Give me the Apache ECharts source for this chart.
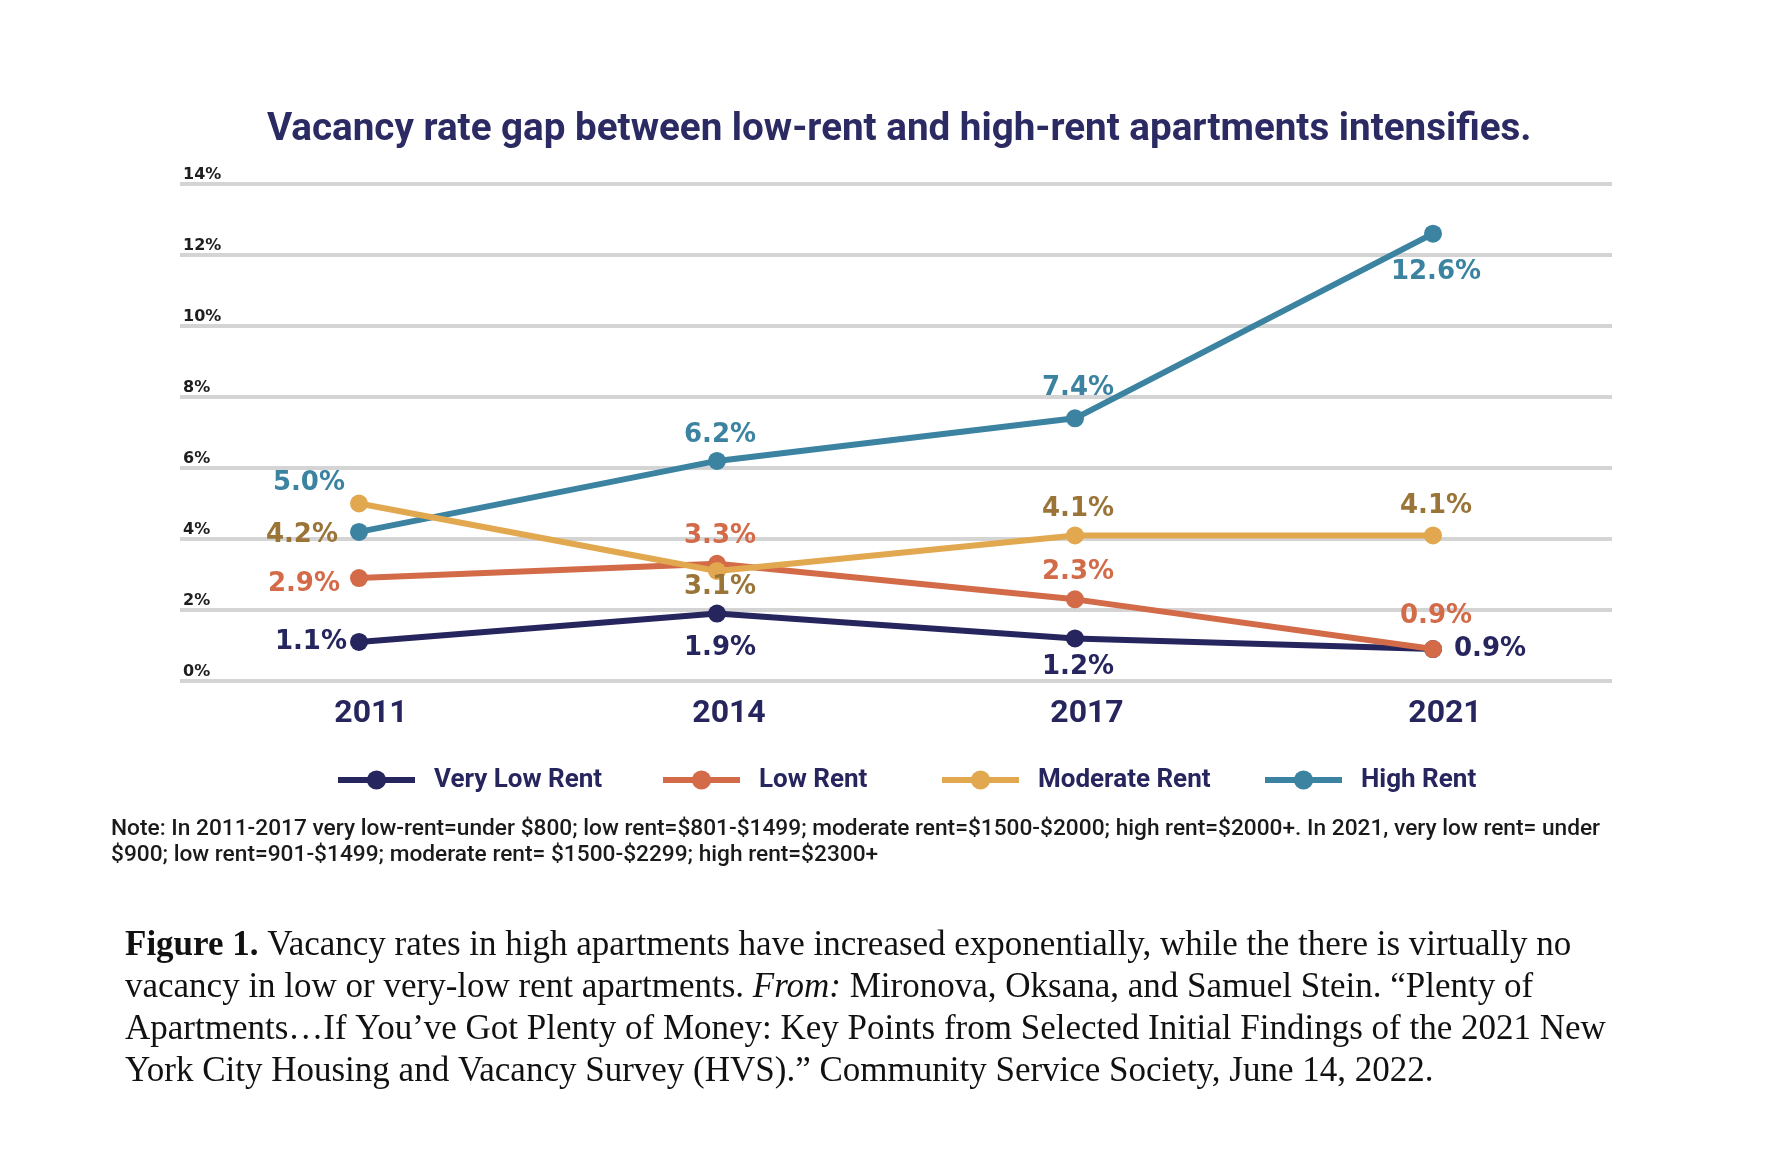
<!DOCTYPE html>
<html>
<head>
<meta charset="utf-8">
<title>vacancy gap</title>
<script src="https://cdn.jsdelivr.net/npm/echarts@6/dist/echarts.min.js"></script>
<style>
  html, body { margin: 0; padding: 0; background: #fff; }
  #chart { width: 1770px; height: 1174px; }
</style>
</head>
<body>
<div id="chart"></div>
<script>
// survey years and vacancy rates (%)
var years = ['2011', '2014', '2017', '2021'];
var veryLowRent = [1.1, 1.9, 1.2, 0.9];
var lowRent = [2.9, 3.3, 2.3, 0.9];
var moderateRent = [5.0, 3.1, 4.1, 4.1];
var highRent = [4.2, 6.2, 7.4, 12.6];
var yTicks = [0, 2, 4, 6, 8, 10, 12, 14];
var seriesNames = ['Very Low Rent', 'Low Rent', 'Moderate Rent', 'High Rent'];

var NAVY = '#26255e', ORANGE = '#d36a48', GOLD = '#e2a84f', TEAL = '#3b83a1', BROWN = '#9b7538';

// where each value label sits relative to its point
var labelLayout = {
  vl:   [{p: 'left', d: 6}, {p: 'bottom', d: 13}, {p: 'bottom', d: 7}, {p: 'right', d: 9}],
  low:  [{p: 'left', d: 10, o: [0, 6]}, {p: 'top', d: 6}, {p: 'top', d: 5}, {p: 'top', d: 11}],
  mod:  [{p: 'left', d: 5, o: [0, -20], c: TEAL}, {p: 'bottom', d: -6}, {p: 'top', d: 4}, {p: 'top', d: 7}],
  high: [{p: 'left', d: 12, o: [0, 3], c: BROWN}, {p: 'top', d: 4}, {p: 'top', d: 8}, {p: 'bottom', d: 17}]
};
// legend entries are spaced unevenly in the original
var legendLeft = [330, 655, 934, 1257];

function points(values, layout, color) {
  return values.map(function (v, i) {
    var l = layout[i];
    return {
      value: v,
      label: {
        position: l.p,
        distance: l.d,
        offset: l.o || [3, 0],
        color: l.c || color
      }
    };
  });
}

function lineSeries(name, values, layout, color, labelColor, z) {
  return {
    name: name,
    type: 'line',
    z: z,
    data: points(values, layout, labelColor),
    symbol: 'circle',
    symbolSize: 18,
    lineStyle: { color: color, width: 6 },
    itemStyle: { color: color },
    label: {
      show: true,
      formatter: function (p) { return p.value.toFixed(1) + '%'; },
      fontFamily: 'DejaVu Sans',
      fontWeight: 'bold',
      fontSize: 26
    },
    emphasis: { disabled: true },
    animation: false
  };
}

var legends = seriesNames.map(function (name, i) {
  return {
    data: [name],
    left: legendLeft[i],
    top: 762,
    itemWidth: 77,
    itemHeight: 24,
    selectedMode: false,
    lineStyle: { width: 6 },
    textStyle: { fontFamily: 'Roboto', fontWeight: 'bold', fontSize: 26, color: '#26255e', padding: [0, 0, 0, 14] }
  };
});

var chart = echarts.init(document.getElementById('chart'));

var option = {
  backgroundColor: '#ffffff',
  animation: false,
  title: [
    {
      text: 'Vacancy rate gap between low-rent and high-rent apartments intensifies.',
      left: 262,
      top: 106,
      textStyle: { fontFamily: 'Roboto', fontWeight: 'bold', fontSize: 38.6, color: '#2b2a63' }
    },
    {
      text: 'Note: In 2011-2017 very low-rent=under $800; low rent=$801-$1499; moderate rent=$1500-$2000; high rent=$2000+. In 2021, very low rent= under\n$900; low rent=901-$1499; moderate rent= $1500-$2299; high rent=$2300+',
      left: 106,
      top: 811,
      textStyle: { fontFamily: 'Roboto', fontWeight: 500, fontSize: 22.7, lineHeight: 26, color: '#1a1a1a' }
    },
    {
      text: '{b|Figure 1.} Vacancy rates in high apartments have increased exponentially, while the there is virtually no\n' +
            'vacancy in low or very-low rent apartments. {i|From:} Mironova, Oksana, and Samuel Stein. \u201cPlenty of\n' +
            'Apartments\u2026If You\u2019ve Got Plenty of Money: Key Points from Selected Initial Findings of the 2021 New\n' +
            'York City Housing and Vacancy Survey (HVS).\u201d Community Service Society, June 14, 2022.',
      left: 120,
      top: 920,
      textStyle: {
        fontFamily: 'Liberation Serif', fontWeight: 'normal', fontSize: 35, lineHeight: 42, color: '#111',
        rich: {
          b: { fontFamily: 'Liberation Serif', fontWeight: 'bold', fontSize: 35, lineHeight: 42, color: '#111' },
          i: { fontFamily: 'Liberation Serif', fontWeight: 'normal', fontStyle: 'italic', fontSize: 35, lineHeight: 42, color: '#111' }
        }
      }
    }
  ],
  legend: legends,
  grid: { left: 180, right: 158, top: 184, bottom: 493 },
  xAxis: {
    type: 'category',
    data: years,
    boundaryGap: true,
    axisLine: { show: false },
    axisTick: { show: false },
    axisLabel: {
      margin: 17,
      padding: [0, 0, 0, 24],
      fontFamily: 'Roboto',
      fontWeight: 'bold',
      fontSize: 32,
      color: '#26255e'
    }
  },
  yAxis: {
    type: 'value',
    min: yTicks[0],
    max: yTicks[yTicks.length - 1],
    interval: 2,
    axisLine: { show: false },
    axisTick: { show: false },
    splitLine: { lineStyle: { color: '#d4d4d4', width: 4 } },
    axisLabel: {
      inside: true,
      margin: 3,
      verticalAlign: 'bottom',
      padding: [0, 0, 1, 0],
      formatter: '{value}%',
      fontFamily: 'DejaVu Sans',
      fontWeight: 'bold',
      fontSize: 16,
      color: '#1e1e1e'
    }
  },
  series: [
    lineSeries(seriesNames[0], veryLowRent, labelLayout.vl, NAVY, NAVY, 2),
    lineSeries(seriesNames[1], lowRent, labelLayout.low, ORANGE, ORANGE, 3),
    lineSeries(seriesNames[3], highRent, labelLayout.high, TEAL, TEAL, 4),
    lineSeries(seriesNames[2], moderateRent, labelLayout.mod, GOLD, BROWN, 5)
  ]
};

chart.setOption(option);
</script>
</body>
</html>
